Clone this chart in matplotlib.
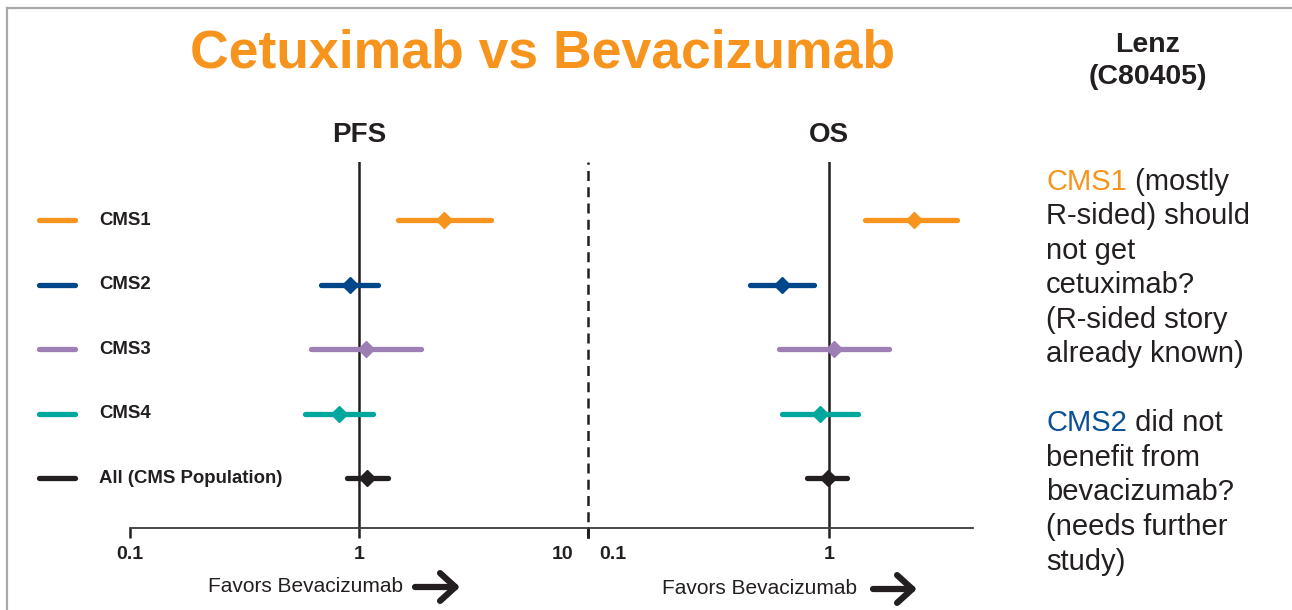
import numpy as np
import matplotlib
matplotlib.use("Agg")
import matplotlib.pyplot as plt
import matplotlib.transforms as mtransforms
from matplotlib.lines import Line2D
from matplotlib.ticker import NullLocator

plt.rcParams["font.family"] = ["Liberation Sans", "DejaVu Sans"]

# hazard ratios (cetuximab vs bevacizumab) with 95% CI, per CMS subtype
groups = ["CMS1", "CMS2", "CMS3", "CMS4", "All (CMS Population)"]
colors = ["#F7941D", "#00468B", "#9D7FB6", "#00A79D", "#231F20"]
pfs_hr = [2.35, 0.91, 1.07, 0.82, 1.08]
pfs_lo = [1.48, 0.68, 0.62, 0.58, 0.89]
pfs_hi = [3.77, 1.21, 1.87, 1.15, 1.34]
os_hr = [2.25, 0.64, 1.05, 0.92, 0.99]
os_lo = [1.41, 0.47, 0.62, 0.64, 0.81]
os_hi = [3.40, 0.87, 1.77, 1.32, 1.19]

note1 = ["R-sided) should", "not get", "cetuximab?", "(R-sided story", "already known)"]
note2 = ["benefit from", "bevacizumab?", "(needs further", "study)"]

W, H = 1292, 610
INK = "#231F20"
fig = plt.figure(figsize=(W / 100, H / 100), dpi=100)
fx = lambda x: x / W
fy = lambda y: 1 - y / H

ax_top, ax_bot = 162, 528
ax1 = fig.add_axes([fx(130), fy(ax_bot), 458 / W, (ax_bot - ax_top) / H])
ax2 = fig.add_axes([fx(588), fy(ax_bot), 385 / W, (ax_bot - ax_top) / H])


def forest(ax, hr, lo, hi, xlim, ticks, ticklabels, name):
    ax.set_xscale("log")
    for i in range(len(groups)):
        ax.plot([lo[i], hi[i]], [i, i], color=colors[i], lw=3.8,
                solid_capstyle="round", zorder=3)
        ax.plot(hr[i], i, marker="D", ms=8, color=colors[i], zorder=4)
    ax.axvline(1, color=INK, lw=1.8, zorder=2)
    ax.set_xlim(*xlim)
    ax.set_ylim(4.775, -0.9)
    ax.set_yticks([])
    for s in ["top", "right", "left"]:
        ax.spines[s].set_visible(False)
    ax.spines["bottom"].set_color("#3a3a3a")
    ax.spines["bottom"].set_linewidth(1.3)
    ax.xaxis.set_minor_locator(NullLocator())
    ax.set_xticks(ticks)
    ax.set_xticklabels(ticklabels, fontweight="bold")
    ax.tick_params(axis="x", length=7.5, width=1.8, color=INK, pad=5.5,
                   labelsize=14, labelcolor=INK)
    ax.patch.set_visible(False)
    tr = mtransforms.blended_transform_factory(ax.transData, ax.transAxes)
    ax.text(1, (ax_bot - 135) / (ax_bot - ax_top), name, transform=tr,
            ha="center", va="center", fontsize=20, fontweight="bold", color=INK)


forest(ax1, pfs_hr, pfs_lo, pfs_hi, (0.1, 10), [0.1, 1, 10], ["0.1", "1", "10"], "PFS")
forest(ax2, os_hr, os_lo, os_hi, (0.1, 10 ** (-1 + 385 / 241)), [0.1, 1], ["0.1", "1"], "OS")

# dashed divider between the two panels
ax1.axvline(10, ymin=-10 / (ax_bot - ax_top), ymax=1, color=INK, lw=1.8,
            ls=(0, (4, 2.5)), clip_on=False, zorder=2)

# nudge the edge labels away from the divider
lab10 = ax1.get_xticklabels()[2]
lab10.set_ha("right")
lab10.set_transform(lab10.get_transform() + mtransforms.ScaledTranslation(-0.15, 0, fig.dpi_scale_trans))
lab01 = ax2.get_xticklabels()[0]
lab01.set_ha("left")
lab01.set_transform(lab01.get_transform() + mtransforms.ScaledTranslation(0.11, 0, fig.dpi_scale_trans))

# row labels on the left
trans = mtransforms.blended_transform_factory(fig.transFigure, ax1.transData)
for i, (g, c) in enumerate(zip(groups, colors)):
    ax1.plot([fx(39), fx(75)], [i, i], color=c, lw=3.8, solid_capstyle="round",
             transform=trans, clip_on=False)
    ax1.text(fx(99), i, g, transform=trans, ha="left", va="center",
             fontsize=13.4, fontweight="bold", color=INK)

# "Favors" captions with arrows
for cx, x0, x1, y in [(306, 415, 460, 587), (760, 873, 917, 589)]:
    fig.text(fx(cx), fy(y), "Favors Bevacizumab", ha="center", va="center",
             fontsize=15, color=INK)
    fig.add_artist(matplotlib.patches.FancyArrowPatch(
        (fx(x0), fy(y)), (fx(x1), fy(y)), transform=fig.transFigure,
        arrowstyle="->,head_length=1.1,head_width=1.0", lw=4.5, color=INK,
        shrinkA=0, shrinkB=0, mutation_scale=10))

fig.text(fx(543), fy(54), "Cetuximab vs Bevacizumab", ha="center", va="center",
         fontsize=38.5, fontweight="bold", color="#F7941D")
fig.text(fx(1148), fy(61), "Lenz\n(C80405)", ha="center", va="center",
         fontsize=20.5, fontweight="bold", color=INK, linespacing=1.25)

# side notes
renderer = fig.canvas.get_renderer()


def note(word, word_color, first_rest, rest, y0, step=34.6):
    t = fig.text(fx(1046), fy(y0 + 10), word, ha="left", va="baseline",
                 fontsize=21, color=word_color)
    bb = t.get_window_extent(renderer)
    fig.text(bb.x1 / W, fy(y0 + 10), first_rest, ha="left", va="baseline",
             fontsize=21, color=INK)
    for k, line in enumerate(rest, start=1):
        fig.text(fx(1046), fy(y0 + 10 + k * step), line, ha="left", va="baseline",
                 fontsize=21, color=INK)


note("CMS1", "#F7941D", " (mostly", note1, 180, 34.4)
note("CMS2", "#0B4F95", " did not", note2, 421, 34.75)

# thin frame along the top and left edges
fig.add_artist(Line2D([fx(7), 1], [fy(8), fy(8)], color="#a8a8a8", lw=1.6))
fig.add_artist(Line2D([fx(7), fx(7)], [0, fy(8)], color="#a8a8a8", lw=1.6))

fig.savefig("out.png", dpi=100)
